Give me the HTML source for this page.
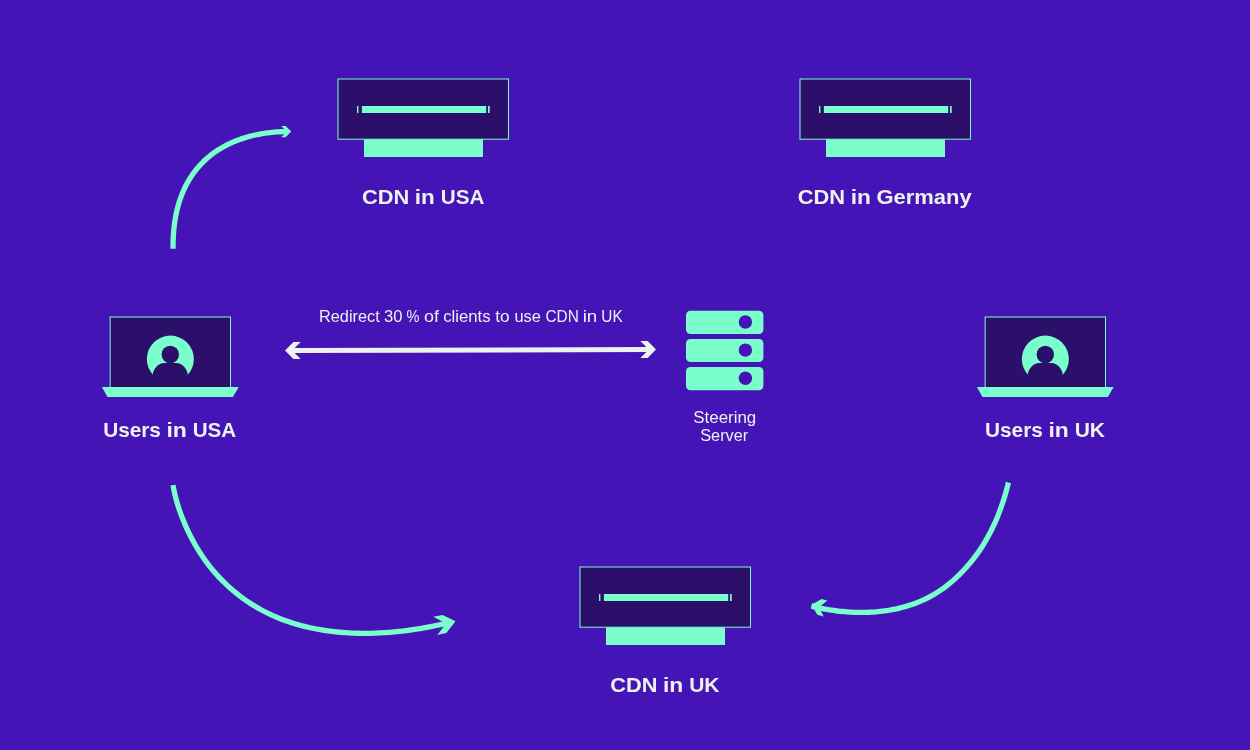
<!DOCTYPE html>
<html lang="en">
<head>
<meta charset="utf-8">
<title>CDN steering diagram</title>
<style>
  html, body { margin: 0; padding: 0; background: #4414b6; }
  body { width: 1250px; height: 750px; overflow: hidden; position: relative; }
  svg { position: absolute; left: 0; top: 0; display: block; }
  .textlayer { will-change: transform; }
  text { font-kerning: none; white-space: pre; }
  .lbl { font-family: "Liberation Sans", sans-serif; font-weight: 700; font-size: 21.0px; fill: #edf2ee; }
  .txt { font-family: "Liberation Sans", sans-serif; font-weight: 400; font-size: 16.0px; fill: #edf2ee; }
</style>
</head>
<body>
<svg width="1250" height="750" viewBox="0 0 1250 750" role="img" aria-label="CDN steering diagram">
  <defs>
    <g id="cdn">
      <rect x="26.5" y="60.5" width="119" height="18.5" fill="#79fecc"/>
      <rect x="0.5" y="1" width="170.5" height="60.2" fill="#2c0f6b" stroke="#79fecc" stroke-width="1"/>
      <rect x="19.5" y="28" width="1.4" height="7" fill="#79fecc"/>
      <rect x="24.4" y="28" width="124.3" height="7" fill="#79fecc"/>
      <rect x="150.5" y="28" width="1.7" height="7" fill="#79fecc"/>
    </g>
    <mask id="avatarMask" maskUnits="userSpaceOnUse" x="40" y="15" width="60" height="60">
      <circle cx="68.35" cy="43.1" r="23.5" fill="#fff"/>
      <circle cx="68.3" cy="38.5" r="8.7" fill="#000"/>
      <path d="M50.6,72 V61 A12,14 0 0 1 62.6,47 H73.9 A12,14 0 0 1 85.9,61 V72 Z" fill="#000"/>
    </mask>
    <g id="laptop">
      <rect x="8.15" y="1" width="120.35" height="70.5" fill="#2c0f6b" stroke="#79fecc" stroke-width="1"/>
      <polygon points="-0.1,71 136.7,71 130.9,81 5.5,81" fill="#79fecc"/>
      <rect x="40" y="15" width="60" height="60" fill="#79fecc" mask="url(#avatarMask)"/>
    </g>
  </defs>

  <rect width="1250" height="750" fill="#4414b6"/>

  <!-- CDN nodes -->
  <use href="#cdn" x="337.5" y="78"/>
  <use href="#cdn" x="799.5" y="78"/>
  <use href="#cdn" x="579.5" y="566"/>

  <!-- user laptops -->
  <use href="#laptop" x="102" y="316"/>
  <use href="#laptop" x="977" y="316"/>

  <!-- steering server -->
  <g fill="#79fecc">
    <rect x="686" y="310.8" width="77.4" height="23.2" rx="4.5"/>
    <rect x="686" y="338.9" width="77.4" height="23.2" rx="4.5"/>
    <rect x="686" y="367" width="77.4" height="23.2" rx="4.5"/>
  </g>
  <g fill="#4414b6">
    <circle cx="745.4" cy="322" r="6.7"/>
    <circle cx="745.4" cy="350.1" r="6.7"/>
    <circle cx="745.4" cy="378.2" r="6.7"/>
  </g>

  <!-- curved arrows -->
  <g fill="none" stroke="#79fecc" stroke-width="5.3" stroke-linejoin="round">
    <path d="M173.07,248.70 L173.06,244.59 L173.14,240.58 L173.30,236.66 L173.54,232.82 L173.87,229.08 L174.27,225.42 L174.75,221.86 L175.30,218.38 L175.93,214.98 L176.63,211.67 L177.41,208.45 L178.25,205.30 L179.15,202.24 L180.13,199.26 L181.17,196.36 L182.27,193.54 L183.43,190.79 L184.65,188.13 L185.92,185.53 L187.26,183.02 L188.65,180.58 L190.09,178.21 L191.58,175.91 L193.12,173.68 L194.70,171.53 L196.34,169.44 L198.02,167.42 L199.74,165.47 L201.50,163.59 L203.30,161.77 L205.14,160.02 L207.02,158.33 L208.93,156.70 L210.87,155.13 L212.85,153.63 L214.86,152.18 L216.89,150.79 L218.95,149.46 L221.03,148.19 L223.14,146.97 L225.27,145.81 L227.42,144.70 L229.59,143.64 L231.77,142.64 L233.97,141.69 L236.18,140.78 L238.40,139.93 L240.64,139.12 L242.88,138.37 L245.13,137.65 L247.39,136.99 L249.64,136.36 L251.90,135.78 L254.16,135.24 L256.42,134.75 L258.68,134.29 L260.93,133.88 L263.18,133.50 L265.42,133.16 L267.64,132.85 L269.86,132.58 L272.06,132.35 L274.25,132.15 L276.43,131.98 L278.58,131.85 L280.72,131.74 L282.84,131.67 L284.93,131.62 L287.00,131.60"/>
    <path d="M173.08,485.20 L173.31,486.63 L173.58,488.10 L173.86,489.61 L174.18,491.16 L174.52,492.74 L174.89,494.36 L175.28,496.01 L175.71,497.69 L176.16,499.41 L176.64,501.16 L177.15,502.93 L177.69,504.74 L178.26,506.57 L178.86,508.42 L179.50,510.30 L180.16,512.21 L180.86,514.13 L181.59,516.08 L182.35,518.05 L183.14,520.03 L183.97,522.04 L184.82,524.06 L185.71,526.10 L186.63,528.15 L187.59,530.22 L188.58,532.30 L189.61,534.39 L190.67,536.49 L191.77,538.60 L192.90,540.71 L194.08,542.84 L195.29,544.97 L196.54,547.10 L197.83,549.23 L199.16,551.37 L200.53,553.51 L201.94,555.64 L203.39,557.78 L204.89,559.91 L206.42,562.04 L208.00,564.16 L209.63,566.27 L211.31,568.38 L213.03,570.46 L214.80,572.54 L216.62,574.60 L218.49,576.64 L220.40,578.67 L222.37,580.68 L224.39,582.66 L226.45,584.63 L228.57,586.58 L230.73,588.51 L232.94,590.41 L235.19,592.29 L237.50,594.15 L239.86,595.98 L242.27,597.78 L244.73,599.55 L247.24,601.30 L249.80,603.01 L252.42,604.69 L255.09,606.32 L257.81,607.93 L260.60,609.49 L263.43,611.01 L266.33,612.49 L269.27,613.92 L272.28,615.31 L275.34,616.65 L278.45,617.95 L281.62,619.21 L284.85,620.41 L288.13,621.57 L291.47,622.69 L294.86,623.75 L298.31,624.76 L301.82,625.71 L305.39,626.62 L309.02,627.47 L312.70,628.26 L316.45,629.00 L320.25,629.68 L324.11,630.30 L328.03,630.87 L332.02,631.39 L336.06,631.84 L340.17,632.24 L344.34,632.58 L348.57,632.86 L352.86,633.08 L357.22,633.23 L361.65,633.32 L366.14,633.33 L370.70,633.28 L375.32,633.15 L380.01,632.94 L384.77,632.66 L389.60,632.31 L394.49,631.88 L399.46,631.37 L404.49,630.77 L409.59,630.10 L414.77,629.35 L420.01,628.51 L425.33,627.59 L430.71,626.58 L436.17,625.48 L441.70,624.30 L446.60,623.20"/>
    <path d="M1008.47,482.49 L1007.64,485.81 L1006.78,489.08 L1005.89,492.29 L1004.97,495.46 L1004.02,498.57 L1003.04,501.63 L1002.03,504.65 L1000.99,507.61 L999.92,510.53 L998.82,513.39 L997.70,516.21 L996.55,518.98 L995.38,521.70 L994.18,524.37 L992.95,526.99 L991.70,529.57 L990.43,532.09 L989.13,534.58 L987.80,537.01 L986.46,539.40 L985.09,541.74 L983.70,544.04 L982.29,546.30 L980.86,548.50 L979.41,550.67 L977.93,552.79 L976.44,554.86 L974.92,556.90 L973.39,558.88 L971.83,560.83 L970.26,562.73 L968.67,564.60 L967.08,566.43 L965.47,568.22 L963.85,569.98 L962.22,571.71 L960.57,573.41 L958.92,575.07 L957.25,576.70 L955.57,578.30 L953.86,579.85 L952.14,581.37 L950.40,582.85 L948.64,584.29 L946.86,585.69 L945.06,587.05 L943.25,588.37 L941.41,589.65 L939.57,590.90 L937.70,592.11 L935.82,593.28 L933.93,594.42 L932.02,595.52 L930.09,596.59 L928.15,597.61 L926.19,598.60 L924.21,599.54 L922.23,600.45 L920.23,601.32 L918.21,602.15 L916.18,602.94 L914.14,603.70 L912.09,604.42 L910.03,605.11 L907.96,605.77 L905.88,606.40 L903.79,606.99 L901.69,607.55 L899.58,608.08 L897.46,608.57 L895.34,609.04 L893.21,609.47 L891.07,609.87 L888.92,610.25 L886.76,610.59 L884.60,610.90 L882.43,611.18 L880.26,611.44 L878.08,611.66 L875.90,611.86 L873.71,612.02 L871.51,612.16 L869.31,612.27 L867.11,612.36 L864.90,612.41 L862.69,612.44 L860.47,612.44 L858.25,612.41 L856.03,612.36 L853.81,612.28 L851.58,612.18 L849.36,612.05 L847.13,611.90 L844.90,611.72 L842.67,611.51 L840.43,611.28 L838.20,611.03 L835.97,610.75 L833.74,610.45 L831.51,610.13 L829.28,609.78 L827.05,609.41 L824.82,609.02 L822.59,608.60 L820.37,608.16 L818.15,607.70 L815.93,607.22 L813.71,606.72 L811.50,606.20"/>
  </g>
  <g fill="#79fecc">
    <polygon points="281.2,126 285.7,126 291.2,131.6 285.7,137.2 281.2,137.2 286.7,131.6"/>
    <polygon points="433.3,616.7 442.7,615 455.5,621.3 446.3,633 437.3,635 446,623.5"/>
    <polygon points="811.1,608.8 811.9,603.7 813.9,603.2 821.7,599 827.3,600.5 821,605.8 821,611.2 823.7,616.5 817.3,614.7 814.2,609.4"/>
  </g>

  <!-- redirect double arrow -->
  <g fill="#edf2ee" stroke="none">
    <polygon points="292,348.1 649,347 649,352 292,353.1"/>
    <polygon points="285,350.6 293.4,342.1 300.7,342.1 292.2,350.6 300.7,359.1 293.4,359.1"/>
    <polygon points="656,349.5 647.7,341 640.3,341 648.8,349.5 640.3,358 647.7,358"/>
  </g>

</svg>
<svg class="textlayer" width="1250" height="750" viewBox="0 0 1250 750">
  <text class="lbl" y="204.0"><tspan x="362.00" textLength="47.37" lengthAdjust="spacingAndGlyphs">CDN</tspan> <tspan x="414.73" textLength="19.96" lengthAdjust="spacingAndGlyphs">in</tspan> <tspan x="440.86" textLength="43.58" lengthAdjust="spacingAndGlyphs">USA</tspan></text>
  <text class="lbl" y="204.0"><tspan x="797.80" textLength="47.37" lengthAdjust="spacingAndGlyphs">CDN</tspan> <tspan x="850.71" textLength="20.20" lengthAdjust="spacingAndGlyphs">in</tspan> <tspan x="876.40" textLength="95.32" lengthAdjust="spacingAndGlyphs">Germany</tspan></text>
  <text class="lbl" y="437.0"><tspan x="103.15" textLength="57.80" lengthAdjust="spacingAndGlyphs">Users</tspan> <tspan x="166.49" textLength="20.43" lengthAdjust="spacingAndGlyphs">in</tspan> <tspan x="192.76" textLength="43.48" lengthAdjust="spacingAndGlyphs">USA</tspan></text>
  <text class="lbl" y="437.0"><tspan x="984.95" textLength="57.91" lengthAdjust="spacingAndGlyphs">Users</tspan> <tspan x="1048.50" textLength="20.31" lengthAdjust="spacingAndGlyphs">in</tspan> <tspan x="1074.64" textLength="30.36" lengthAdjust="spacingAndGlyphs">UK</tspan></text>
  <text class="lbl" y="692.0"><tspan x="610.31" textLength="47.16" lengthAdjust="spacingAndGlyphs">CDN</tspan> <tspan x="663.00" textLength="20.31" lengthAdjust="spacingAndGlyphs">in</tspan> <tspan x="689.14" textLength="30.36" lengthAdjust="spacingAndGlyphs">UK</tspan></text>

  <text class="txt" y="322.0"><tspan x="319.06" textLength="60.66" lengthAdjust="spacingAndGlyphs">Redirect</tspan> <tspan x="383.97" textLength="18.48" lengthAdjust="spacingAndGlyphs">30</tspan> <tspan x="406.58" textLength="12.94" lengthAdjust="spacingAndGlyphs">%</tspan> <tspan x="423.95" textLength="14.93" lengthAdjust="spacingAndGlyphs">of</tspan> <tspan x="443.19" textLength="47.42" lengthAdjust="spacingAndGlyphs">clients</tspan> <tspan x="495.34" textLength="14.39" lengthAdjust="spacingAndGlyphs">to</tspan> <tspan x="514.43" textLength="26.50" lengthAdjust="spacingAndGlyphs">use</tspan> <tspan x="545.42" textLength="33.44" lengthAdjust="spacingAndGlyphs">CDN</tspan> <tspan x="582.65" textLength="14.57" lengthAdjust="spacingAndGlyphs">in</tspan> <tspan x="601.31" textLength="21.36" lengthAdjust="spacingAndGlyphs">UK</tspan></text>
  <text class="txt" y="423.0"><tspan x="693.23" textLength="63.06" lengthAdjust="spacingAndGlyphs">Steering</tspan></text>
  <text class="txt" y="441.0"><tspan x="700.16" textLength="48.11" lengthAdjust="spacingAndGlyphs">Server</tspan></text>
</svg>
</body>
</html>
